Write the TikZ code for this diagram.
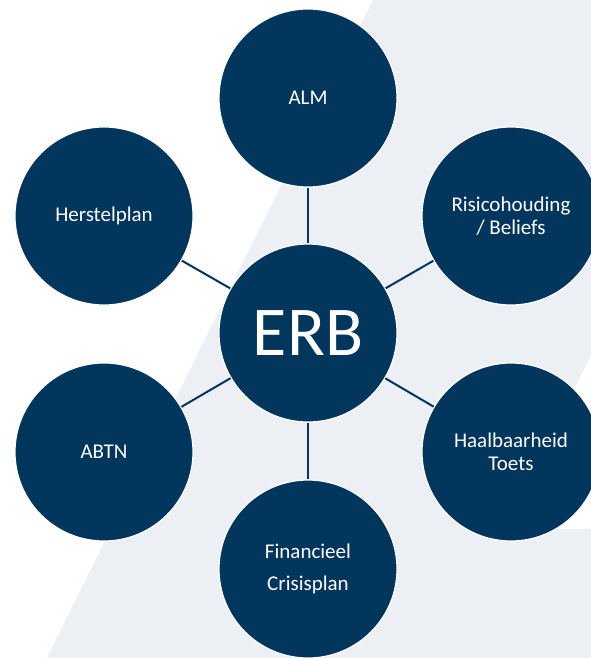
\documentclass[tikz,border=0pt]{standalone}
\usepackage{fontspec}
\setmainfont{Carlito}
\definecolor{navy}{RGB}{2,54,93}
\definecolor{bggray}{RGB}{236,239,244}
\begin{document}
\begin{tikzpicture}[x=1pt,y=-1pt,
  bubble/.style={circle, fill=navy, draw=white, line width=1.2pt, minimum size=178pt, inner sep=0pt, text=white, font=\fontsize{21}{23}\selectfont, align=center},
  link/.style={draw=navy, line width=2pt}]
\useasboundingbox (0,0) rectangle (591,658);
\clip (0,0) rectangle (591,658);
\fill[bggray] (373,0) -- (591,0) -- (591,355) -- (504,529) -- (591,529) -- (591,658) -- (47,658) -- cycle;
\node[bubble, font=\fontsize{70}{70}\selectfont] (erb) at (308,333) {ERB};
\node[bubble] (alm) at (308,98) {ALM};
\node[bubble] (her) at (104,216) {Herstelplan};
\node[bubble] (ris) at (511,216) {Risicohouding\\/ Beliefs};
\node[bubble] (abtn) at (104,452) {ABTN};
\node[bubble] (haal) at (511,452) {Haalbaarheid\\Toets};
\node[bubble, font=\fontsize{21}{32}\selectfont] (fin) at (308,569) {Financieel\\Crisisplan};
\draw[link] (erb) -- (alm);
\draw[link] (erb) -- (her);
\draw[link] (erb) -- (ris);
\draw[link] (erb) -- (abtn);
\draw[link] (erb) -- (haal);
\draw[link] (erb) -- (fin);
\end{tikzpicture}
\end{document}
